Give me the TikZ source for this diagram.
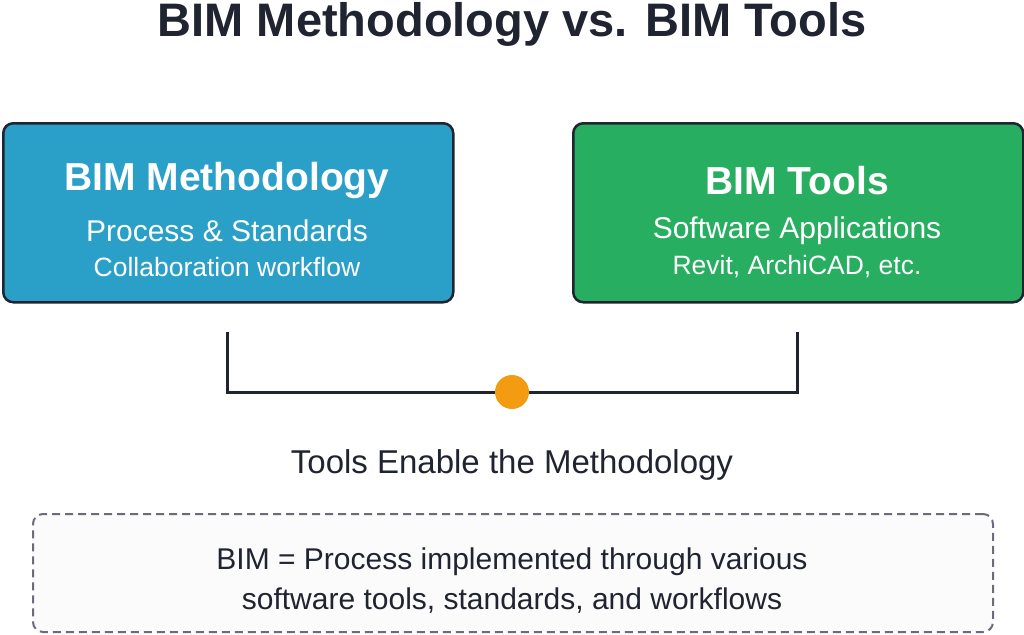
\documentclass[tikz,border=0pt]{standalone}
\usepackage{fontspec}
\setmainfont{Liberation Sans}
\definecolor{dark}{HTML}{1F2430}
\definecolor{blueb}{HTML}{2A9FC8}
\definecolor{greenb}{HTML}{27AE60}
\definecolor{orng}{HTML}{F39C12}
\definecolor{dgray}{HTML}{6B6B7B}
\begin{document}
\begin{tikzpicture}[x=1pt,y=-1pt,
  card/.style={draw=dark,line width=2.5pt,rounded corners=10pt,minimum width=450pt,minimum height=179pt,anchor=north west},
  txt/.style={text=white,font=#1}]
\useasboundingbox (0,0) rectangle (1024,634);
\node[font=\fontsize{47}{50}\selectfont\bfseries,text=dark,inner sep=0,anchor=base] (title) at (512,37) {BIM Methodology vs. BIM Tools};
\node[card,fill=blueb] (lbox) at (2,122) {};
\node[card,fill=greenb] (rbox) at (572,122) {};
\node[txt=\fontsize{39}{42}\selectfont\bfseries] (lt) at (227,181) {BIM Methodology};
\node[txt=\fontsize{30}{34}\selectfont] (ls1) at (227,231) {Process \& Standards};
\node[txt=\fontsize{26.5}{30}\selectfont] (ls2) at (227,267) {Collaboration workflow};
\node[txt=\fontsize{39}{42}\selectfont\bfseries] (rt) at (797,181) {BIM Tools};
\node[txt=\fontsize{30}{34}\selectfont] (rs1) at (797,231) {Software Applications};
\node[txt=\fontsize{26.5}{30}\selectfont] (rs2) at (797,267) {Revit, ArchiCAD, etc.};
\coordinate (a) at (227,332); \coordinate (b) at (797,332);
\draw[dark,line width=3pt] (a) -- (227,392) -- (797,392) -- (b);
\node[circle,fill=orng,minimum size=34pt,inner sep=0] (dot) at (512,392) {};
\node[font=\fontsize{33}{36}\selectfont,text=dark] (en) at (512,465) {Tools Enable the Methodology};
\node[draw=dgray,dashed,dash pattern=on 8pt off 5pt,line width=2pt,rounded corners=10pt,fill=gray!3,minimum width=960pt,minimum height=118pt,anchor=north west] (note) at (32,513) {};
\node[font=\fontsize{30}{40}\selectfont,text=dark,align=center] (nt) at (512,581) {BIM = Process implemented through various\\software tools, standards, and workflows};
\end{tikzpicture}
\end{document}
